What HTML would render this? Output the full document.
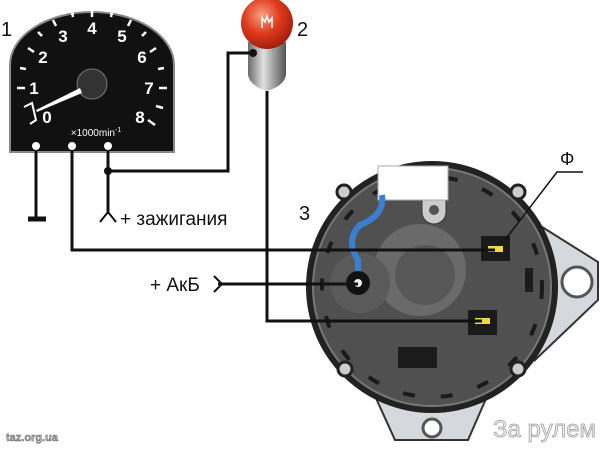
<!DOCTYPE html>
<html><head><meta charset="utf-8"><style>
html,body{margin:0;padding:0;background:#fff;width:600px;height:449px;overflow:hidden}
svg{display:block}
text{font-family:"Liberation Sans","DejaVu Sans",sans-serif}
</style></head><body>
<svg width="600" height="449" viewBox="0 0 600 449" xmlns="http://www.w3.org/2000/svg">
<defs>
<radialGradient id="bulb" cx="0.4" cy="0.35" r="0.7"><stop offset="0" stop-color="#f7a080"/><stop offset="0.5" stop-color="#e03a1e"/><stop offset="1" stop-color="#9a1a0c"/></radialGradient>
<linearGradient id="base" x1="0" x2="1"><stop offset="0" stop-color="#6a6a6a"/><stop offset="0.4" stop-color="#e0e0e0"/><stop offset="1" stop-color="#555"/></linearGradient>
</defs>
<!-- brackets -->
<path d="M515 210 L598 262 L598 300 L535 360 Z" fill="#d5d9de" stroke="#333" stroke-width="2"/>
<circle cx="577" cy="282" r="15" fill="#fff" stroke="#555" stroke-width="3"/>
<path d="M370 385 L395 440 L468 440 L492 385 Z" fill="#d5d9de" stroke="#333" stroke-width="2"/>
<circle cx="432" cy="428" r="9" fill="#fff" stroke="#555" stroke-width="3"/>
<!-- alternator body -->
<circle cx="432" cy="287" r="126" fill="#222"/>
<circle cx="432" cy="287" r="119" fill="#505050" stroke="#777" stroke-width="2"/>
<circle cx="432" cy="287" r="110" fill="none" stroke="#1a1a1a" stroke-width="4" stroke-dasharray="12 26"/>
<circle cx="420" cy="270" r="46" fill="#6a6a6a"/>
<circle cx="425" cy="275" r="30" fill="#575757"/>
<circle cx="360" cy="283" r="30" fill="#5a5a5a"/>
<circle cx="344" cy="192" r="7" fill="#ccc" stroke="#222" stroke-width="3"/>
<circle cx="518" cy="192" r="7" fill="#ccc" stroke="#222" stroke-width="3"/>
<circle cx="345" cy="369" r="7" fill="#ccc" stroke="#222" stroke-width="3"/>
<circle cx="518" cy="369" r="7" fill="#ccc" stroke="#222" stroke-width="3"/>
<path d="M422 200 L446 200 L446 212 A12 12 0 0 1 422 212 Z" fill="#ccc" stroke="#333"/>
<circle cx="434" cy="210" r="5" fill="#555"/>
<rect x="378" y="166" width="70" height="34" fill="#fff" stroke="#aaa"/>
<rect x="398" y="347" width="39" height="21" fill="#1c1c1c"/>
<rect x="525" y="268" width="8" height="24" fill="#1c1c1c"/>
<path d="M382 195 Q385 215 360 225 Q345 240 358 260 L358 280" stroke="#3a7fd0" stroke-width="6" fill="none"/>
<circle cx="358" cy="283" r="12" fill="#111"/>
<circle cx="358" cy="283" r="4" fill="#eee"/>
<rect x="481" y="236" width="29" height="25" fill="#1a1a1a"/>
<rect x="488" y="246" width="15" height="6" fill="#f0d840"/>
<rect x="468" y="310" width="29" height="25" fill="#1a1a1a"/>
<rect x="475" y="318" width="15" height="6" fill="#f0d840"/>
<!-- tachometer -->
<path d="M10 152 L10 65 A82 53 0 0 1 174 65 L174 152 Z" fill="#111" stroke="#888" stroke-width="2"/>
<g stroke="#fff" stroke-width="2.5">
<line x1="92" y1="8" x2="92" y2="17"/><line x1="53" y1="20" x2="56" y2="26"/><line x1="131" y1="20" x2="128" y2="26"/>
<line x1="28" y1="48" x2="34" y2="52"/><line x1="156" y1="48" x2="150" y2="52"/>
<line x1="17" y1="88" x2="25" y2="88"/><line x1="159" y1="88" x2="167" y2="88"/>
<line x1="148" y1="120" x2="155" y2="125"/><line x1="72" y1="12" x2="73" y2="17"/><line x1="112" y1="12" x2="111" y2="17"/>
<line x1="38" y1="32" x2="42" y2="36"/><line x1="146" y1="32" x2="142" y2="36"/>
<line x1="20" y1="68" x2="26" y2="69"/><line x1="164" y1="68" x2="158" y2="69"/>
<line x1="156" y1="106" x2="163" y2="108"/>
</g>
<path d="M24 107 L32 103 L36 120 L30 124" stroke="#fff" stroke-width="2" fill="none"/>
<g fill="#fff" font-weight="bold" font-size="17" text-anchor="middle">
<text x="47" y="123">0</text><text x="34" y="94">1</text><text x="43" y="63">2</text><text x="63" y="42">3</text>
<text x="92" y="34">4</text><text x="122" y="42">5</text><text x="142" y="63">6</text><text x="149" y="94">7</text><text x="140" y="123">8</text>
</g>
<text x="96" y="136" fill="#fff" font-size="10" text-anchor="middle">×1000min<tspan font-size="7" dy="-4">-1</tspan></text>
<circle cx="92" cy="84" r="15" fill="#333" stroke="#777"/>
<path d="M80 88 L36 110 L37 112 L82 93 Z" fill="#fff"/>
<circle cx="36" cy="146" r="4" fill="#fff"/><circle cx="72" cy="146" r="4" fill="#fff"/><circle cx="108" cy="146" r="4" fill="#fff"/>
<!-- bulb -->
<path d="M248 42 L248 75 Q250 86 267 91 Q284 86 286 75 L286 42 Z" fill="url(#base)"/>
<circle cx="267" cy="23" r="26" fill="url(#bulb)"/>
<path d="M262 28 L262 18 L265 22 L267 16 L269 22 L272 18 L272 28" stroke="#fff" stroke-width="1.5" fill="none"/>
<circle cx="253" cy="53" r="4" fill="#111"/>
<!-- wires -->
<g stroke="#111" stroke-width="3" fill="none">
<path d="M36 150 L36 218"/><path d="M28 219 L46 219" stroke-width="5"/>
<path d="M72 150 L72 250 L495 250"/>
<path d="M108 150 L108 214"/>
<path d="M108 171 L228 171 L228 53 L253 53"/>
<path d="M267 91 L267 321 L482 321"/>
<path d="M218 284 L358 284"/>
<path d="M100 222 L108 212 L116 222" stroke-width="2"/>
<path d="M214 276 L222 284 L214 292" stroke-width="2"/>
<path d="M505 240 L557 172 L583 172" stroke-width="1.5"/>
</g>
<circle cx="108" cy="171" r="4" fill="#111"/>
<!-- labels -->
<g fill="#111">
<text x="1" y="36" font-size="20">1</text>
<text x="297" y="36" font-size="20">2</text>
<text x="299" y="220" font-size="20">3</text>
<text x="120" y="225" font-size="19">+ зажигания</text>
<text x="150" y="291" font-size="19">+ АкБ</text>
<text x="560" y="165" font-size="18">Φ</text>
</g>
<text x="6" y="441" font-size="11" font-weight="bold" fill="#aaa" stroke="#555" stroke-width="0.4">taz.org.ua</text>
<text x="493" y="437" font-size="24" fill="#eee" stroke="#999" stroke-width="0.7">За рулем</text>
</svg>
</body></html>
